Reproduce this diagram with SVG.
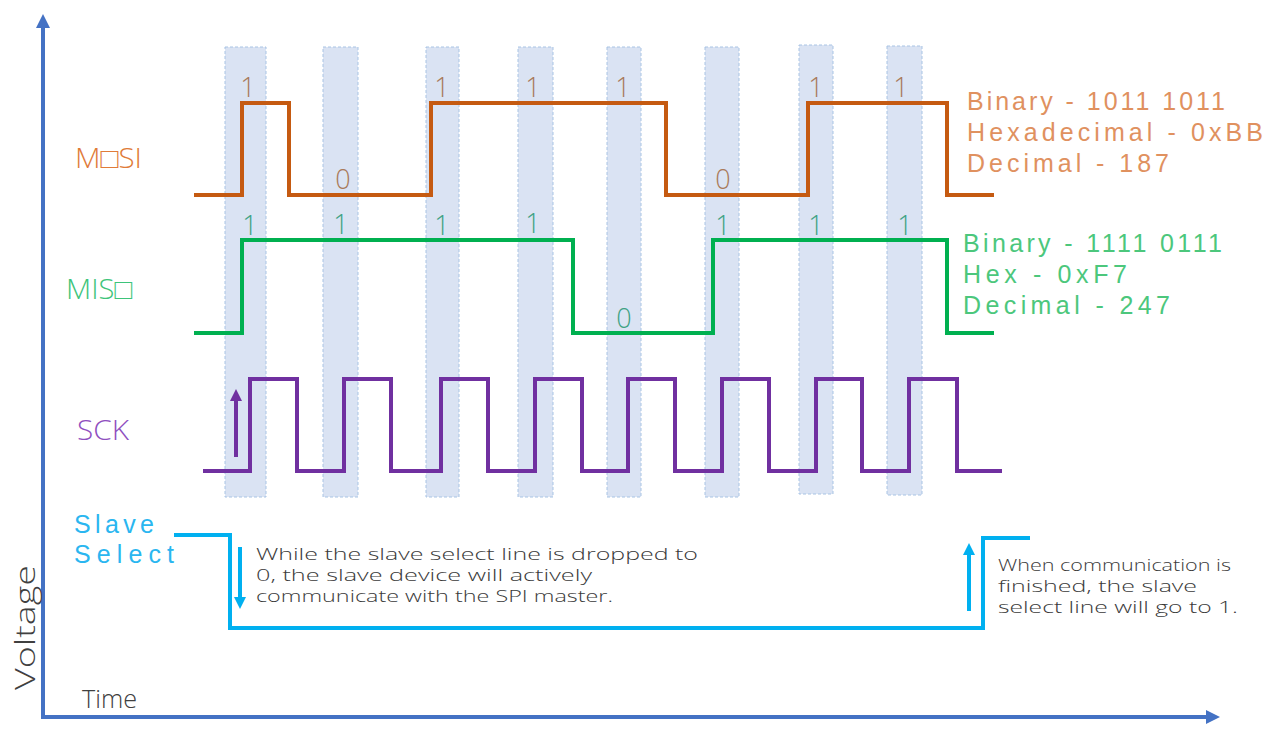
<svg xmlns="http://www.w3.org/2000/svg" width="1280" height="731" viewBox="0 0 1280 731">
<style>
.t{font-family:"Open Sans","DejaVu Sans",sans-serif;font-weight:300;}
.l{font-family:"Liberation Sans","DejaVu Sans",sans-serif;font-weight:normal;font-size:25px;}
.band{fill:#dae3f3;stroke:#a9c4e4;stroke-width:1;stroke-dasharray:3 2;}
.sig{fill:none;stroke-width:4;stroke-linejoin:miter;}
.dg{font-size:27px;text-anchor:middle;}
.big{font-size:28px;}
.cap{font-size:17px;fill:#3a3a3a;}
</style>
<defs>
<marker id="ahAxis" markerUnits="userSpaceOnUse" markerWidth="14" markerHeight="14" refX="2" refY="7" orient="auto"><path d="M0,0 L14,7 L0,14 z" fill="#4472c4"/></marker>
<marker id="ahSS" markerUnits="userSpaceOnUse" markerWidth="12" markerHeight="12" refX="2" refY="6" orient="auto"><path d="M0,0 L12,6 L0,12 z" fill="#00b0f0"/></marker>
<marker id="ahSCK" markerUnits="userSpaceOnUse" markerWidth="12" markerHeight="12" refX="2" refY="6" orient="auto"><path d="M0,0 L12,6 L0,12 z" fill="#7030a0"/></marker>
</defs>
<rect width="1280" height="731" fill="#ffffff"/>

<g id="bands">
<rect class="band" x="225" y="47" width="41" height="450"/>
<rect class="band" x="323" y="47" width="35" height="450"/>
<rect class="band" x="426" y="47" width="33" height="450"/>
<rect class="band" x="518" y="47" width="35" height="450"/>
<rect class="band" x="607" y="47" width="34" height="450"/>
<rect class="band" x="705" y="47" width="34" height="450"/>
<rect class="band" x="799" y="45" width="34" height="449"/>
<rect class="band" x="887" y="46" width="35" height="449"/>
</g>

<g id="axes">
<line x1="43" y1="719" x2="43" y2="26" stroke="#4472c4" stroke-width="4" marker-end="url(#ahAxis)"/>
<line x1="41" y1="717" x2="1208" y2="717" stroke="#4472c4" stroke-width="4" marker-end="url(#ahAxis)"/>
<text class="t" x="82" y="708" font-size="26" fill="#404040" textLength="55" lengthAdjust="spacingAndGlyphs">Time</text>
<text class="t" transform="translate(35,690) rotate(-90)" x="0" y="0" font-size="28" fill="#404040" textLength="125" lengthAdjust="spacingAndGlyphs">Voltage</text>
</g>

<g id="mosi">
<path class="sig" stroke="#c55a11" d="M194,195 H242 V103 H289 V195 H431 V103 H666 V195 H808 V103 H947 V195 H994"/>
<text class="t big" x="75" y="168" fill="#e07b39" textLength="67" lengthAdjust="spacingAndGlyphs">M□SI</text>
<g class="t dg" fill="#a97a5a">
<text x="248" y="97">1</text><text x="343" y="189">0</text><text x="442" y="97">1</text><text x="533" y="97">1</text>
<text x="623" y="97">1</text><text x="723" y="189">0</text><text x="816" y="97">1</text><text x="901" y="97">1</text>
</g>
<g class="l" fill="#e0915f">
<text x="967" y="110" textLength="258" lengthAdjust="spacing">Binary - 1011 1011</text>
<text x="967" y="141" textLength="296" lengthAdjust="spacing">Hexadecimal - 0xBB</text>
<text x="967" y="172" textLength="202" lengthAdjust="spacing">Decimal - 187</text>
</g>
</g>

<g id="miso">
<path class="sig" stroke="#00b050" d="M194,333 H242 V240 H573 V333 H713 V240 H947 V333 H994"/>
<text class="t big" x="66" y="299" fill="#3dc47a" textLength="66" lengthAdjust="spacingAndGlyphs">MIS□</text>
<g class="t dg" fill="#3fa284">
<text x="250" y="235">1</text><text x="341" y="234">1</text><text x="442" y="235">1</text><text x="533" y="233">1</text>
<text x="624" y="328">0</text><text x="723" y="235">1</text><text x="816" y="235">1</text><text x="905" y="235">1</text>
</g>
<g class="l" fill="#4cc77c">
<text x="963" y="252" textLength="259" lengthAdjust="spacing">Binary - 1111 0111</text>
<text x="963" y="283" textLength="164" lengthAdjust="spacing">Hex - 0xF7</text>
<text x="963" y="314" textLength="207" lengthAdjust="spacing">Decimal - 247</text>
</g>
</g>

<g id="sck">
<path class="sig" stroke="#7030a0" d="M203,471 H250 V379 H297 V471 H344 V379 H391 V471 H441 V379 H488 V471 H535 V379 H582 V471 H628 V379 H675 V471 H722 V379 H769 V471 H816 V379 H862 V471 H909 V379 H957 V471 H1002"/>
<text class="t big" x="77" y="440" fill="#8f4fc0" textLength="52" lengthAdjust="spacingAndGlyphs">SCK</text>
</g>

<g id="slave-select">
<path class="sig" stroke="#00b0f0" d="M174,535 H230 V628 H983 V538 H1030"/>
<text class="l" x="74" y="533" fill="#2ab6f0" textLength="80" lengthAdjust="spacing">Slave</text>
<text class="l" x="74" y="563" fill="#2ab6f0" textLength="100" lengthAdjust="spacing">Select</text>
</g>

<g id="note-drop">
<text class="t cap" x="256" y="560" textLength="442" lengthAdjust="spacingAndGlyphs">While the slave select line is dropped to</text>
<text class="t cap" x="256" y="581" textLength="336" lengthAdjust="spacingAndGlyphs">0, the slave device will actively</text>
<text class="t cap" x="256" y="602" textLength="357" lengthAdjust="spacingAndGlyphs">communicate with the SPI master.</text>
</g>

<g id="note-finish">
<text class="t cap" x="998" y="571" textLength="233" lengthAdjust="spacingAndGlyphs">When communication is</text>
<text class="t cap" x="998" y="592" textLength="199" lengthAdjust="spacingAndGlyphs">finished, the slave</text>
<text class="t cap" x="998" y="613" textLength="240" lengthAdjust="spacingAndGlyphs">select line will go to 1.</text>
</g>

<g id="connectors">
<line x1="240" y1="547" x2="240" y2="599" stroke="#00b0f0" stroke-width="4" marker-end="url(#ahSS)"/>
<line x1="969" y1="611" x2="969" y2="553" stroke="#00b0f0" stroke-width="4" marker-end="url(#ahSS)"/>
<line x1="236" y1="457" x2="236" y2="399" stroke="#7030a0" stroke-width="4" marker-end="url(#ahSCK)"/>
</g>
</svg>
